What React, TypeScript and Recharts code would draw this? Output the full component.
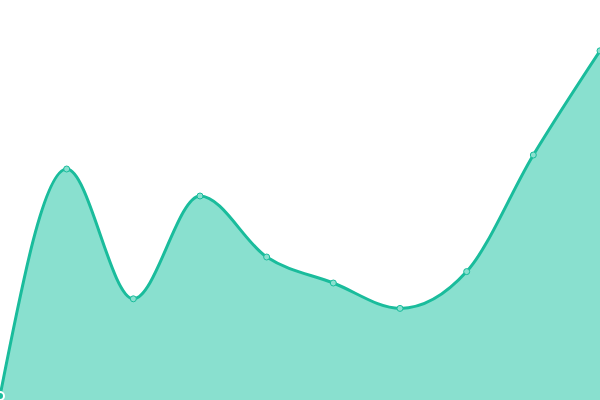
import React from "react";
import { AreaChart, Area, XAxis, YAxis } from "recharts";

const categories = ["A", "B", "C", "D", "E", "F", "G", "H", "I", "J"];
const values = [1, 57.75, 25.3, 51, 35.75, 29.25, 22.9, 32.1, 61.25, 87.3];

const data = categories.map((name, i) => ({ name, value: values[i] }));

export default function App() {
  return (
    <div style={{ position: "absolute", left: 0, top: 0, width: 600, height: 400, background: "#fff" }}>
      <AreaChart width={600} height={400} data={data} margin={{ top: 0, right: 0, bottom: 0, left: 0 }}>
        <XAxis dataKey="name" hide />
        <YAxis hide domain={[0, 100]} />
        <Area
          type="monotone"
          dataKey="value"
          stroke="#1abc9c"
          strokeWidth={3}
          fill="#89e0cf"
          fillOpacity={1}
          dot={{ r: 3, fill: "#8ae0cf", stroke: "#1abc9c", strokeWidth: 1 }}
          isAnimationActive={false}
        />
      </AreaChart>
    </div>
  );
}
